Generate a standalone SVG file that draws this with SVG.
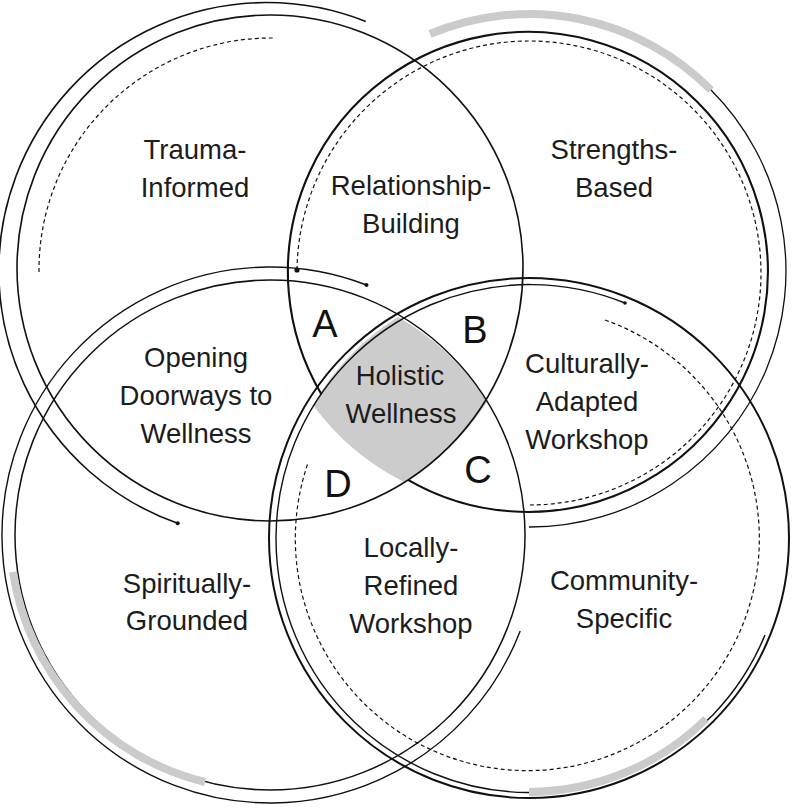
<svg xmlns="http://www.w3.org/2000/svg" width="792" height="811" viewBox="0 0 792 811">
<style>
.ln{fill:none;stroke:#111;}
.dash{fill:none;stroke:#111;stroke-width:1.2;stroke-dasharray:4 3;}
.gray{fill:none;stroke:#cbcbcb;stroke-width:8;}
.lbl{font-family:"Liberation Sans",Arial,sans-serif;font-size:27.5px;fill:#1c1c1c;text-anchor:middle;}
.big{font-family:"Liberation Sans",Arial,sans-serif;font-size:38px;fill:#111;text-anchor:middle;}
.dot{fill:#111;}
</style>
<rect width="792" height="811" fill="#fff"/>
<g id="holistic-wellness">
<path d="M313,405 A254,254 0 0 1 398,317 A254,254 0 0 1 487,402 A254,254 0 0 1 404,482 A254,254 0 0 1 313,405 Z" fill="#cccccc"/>
</g>
<g id="trauma-informed">
<circle class="ln" cx="270" cy="268" r="253" stroke-width="1.6"/>
<path class="ln" stroke-width="1.6" d="M177.7,523.3 A268,268 0 1 1 365.8,21.5"/>
<circle class="dot" cx="177.7" cy="523.3" r="2"/>
<path class="dash" d="M39,272 A232,232 0 0 1 273,38"/>
<text class="lbl" x="195" y="159">Trauma-</text>
<text class="lbl" x="195" y="197">Informed</text>
</g>
<g id="strengths-based">
<path class="ln" stroke-width="2.1" d="M321.4,394.2 A240,240 0 1 1 408,479.8"/>
<path class="gray" d="M430,34 A256,256 0 0 1 711,90"/>
<path class="ln" stroke-width="1.3" d="M711,90 A256,256 0 0 1 529,527"/>
<path class="dash" d="M297,270 A232,232 0 1 1 529,505"/>
<circle class="dot" cx="297" cy="270" r="2.6"/>
<text class="lbl" x="614" y="159">Strengths-</text>
<text class="lbl" x="614" y="197">Based</text>
</g>
<g id="spiritually-grounded">
<circle class="ln" cx="270" cy="535" r="255" stroke-width="1.5"/>
<path class="gray" d="M205,782 A255,255 0 0 1 13,572"/>
<path class="ln" stroke-width="1.4" d="M520.2,631 A268,268 0 1 1 366.5,285"/>
<circle class="dot" cx="366.5" cy="285" r="2"/>
<text class="lbl" x="187" y="593">Spiritually-</text>
<text class="lbl" x="187" y="630">Grounded</text>
</g>
<g id="community-specific">
<circle class="ln" cx="529" cy="538" r="260" stroke-width="2"/>
<path class="ln" stroke-width="1.4" d="M765,635 A254,254 0 1 1 625,303"/>
<circle class="dot" cx="625" cy="303" r="1.8"/>
<path class="gray" d="M706,719 A254,254 0 0 1 529,792"/>
<path class="dash" d="M605,320 A232,232 0 1 1 308,463"/>
<text class="lbl" x="624" y="590">Community-</text>
<text class="lbl" x="624" y="628">Specific</text>
</g>
<g id="relationship-building">
<text class="lbl" x="411" y="195">Relationship-</text>
<text class="lbl" x="411" y="233">Building</text>
</g>
<g id="opening-doorways">
<text class="lbl" x="196" y="367">Opening</text>
<text class="lbl" x="196" y="405">Doorways to</text>
<text class="lbl" x="196" y="443">Wellness</text>
</g>
<g id="culturally-adapted">
<text class="lbl" x="587" y="373">Culturally-</text>
<text class="lbl" x="587" y="411">Adapted</text>
<text class="lbl" x="587" y="449">Workshop</text>
</g>
<g id="locally-refined">
<text class="lbl" x="411" y="557">Locally-</text>
<text class="lbl" x="411" y="595">Refined</text>
<text class="lbl" x="411" y="633">Workshop</text>
</g>
<g id="holistic-label">
<text class="lbl" x="400" y="385">Holistic</text>
<text class="lbl" x="401" y="423">Wellness</text>
</g>
<g id="region-a"><text class="big" x="325" y="337">A</text></g>
<g id="region-b"><text class="big" x="475" y="343">B</text></g>
<g id="region-c"><text class="big" x="478" y="483">C</text></g>
<g id="region-d"><text class="big" x="338" y="497">D</text></g>
</svg>
